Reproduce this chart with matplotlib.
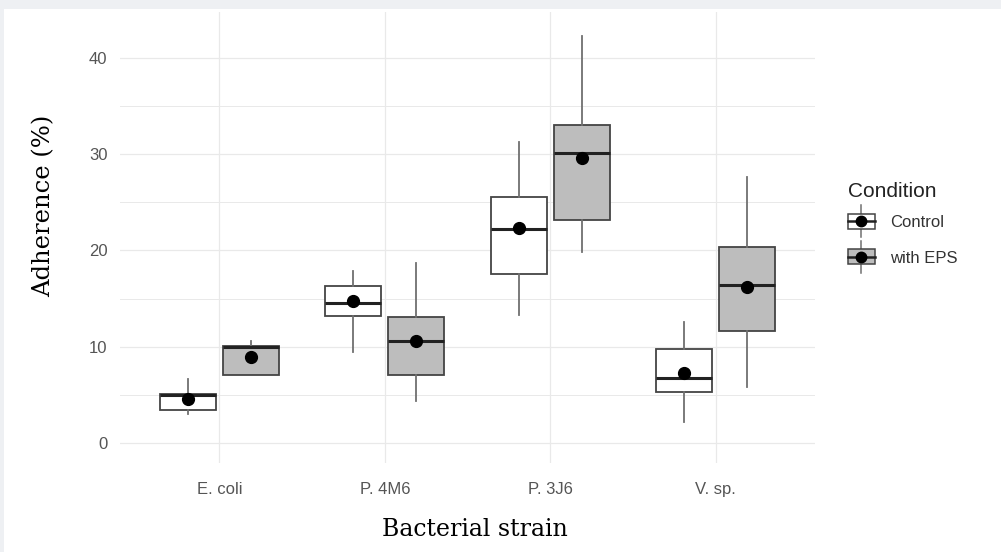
import numpy as np
import matplotlib.pyplot as plt
from matplotlib.legend_handler import HandlerBase
from matplotlib.patches import Rectangle
from matplotlib.lines import Line2D

strains = ['E. coli', 'P. 4M6', 'P. 3J6', 'V. sp.']
conditions = ['Control', 'with EPS']

# box stats (whisker low, Q1, median, Q3, whisker high, mean)
ctrl_lo = [3.0, 9.4, 13.3, 2.2]
ctrl_q1 = [3.4, 13.2, 17.6, 5.3]
ctrl_med = [5.0, 14.5, 22.2, 6.75]
ctrl_q3 = [5.1, 16.3, 25.6, 9.8]
ctrl_hi = [6.6, 17.9, 31.3, 12.6]
ctrl_mean = [4.6, 14.7, 22.3, 7.3]

eps_lo = [7.05, 4.3, 19.8, 5.8]
eps_q1 = [7.05, 7.1, 23.2, 11.6]
eps_med = [10.0, 10.6, 30.1, 16.4]
eps_q3 = [10.1, 13.1, 33.0, 20.4]
eps_hi = [10.6, 18.7, 42.3, 27.6]
eps_mean = [8.9, 10.6, 29.6, 16.2]

fills = ['white', '#bdbdbd']
edge = '#444444'
whisk = '#707070'
grid_c = '#e9e9e9'


def make_stats(lo, q1, med, q3, hi):
    return [dict(whislo=a, q1=b, med=c, q3=d, whishi=e, fliers=[])
            for a, b, c, d, e in zip(lo, q1, med, q3, hi)]


class BoxHandler(HandlerBase):
    # legend key: whisker, box, median line and mean dot, sized from the font
    def create_artists(self, legend, orig_handle, xdescent, ydescent,
                       width, height, fontsize, trans):
        fc = orig_handle.get_facecolor()
        cx = width / 2 - xdescent
        cy = height / 2 - ydescent
        bw, bh = width, 0.9 * fontsize
        wh = 0.95 * fontsize
        wl = Line2D([cx, cx], [cy - wh, cy + wh], color=whisk, lw=1.1, transform=trans)
        box = Rectangle((cx - bw / 2, cy - bh / 2), bw, bh, facecolor=fc,
                        edgecolor=edge, lw=1.1, transform=trans)
        med = Line2D([cx - bw / 2, cx + bw / 2], [cy, cy], color='#222222', lw=1.8, transform=trans)
        dot = Line2D([cx], [cy], marker='o', color='black', ms=7.5, transform=trans)
        return [wl, box, med, dot]


fig = plt.figure(figsize=(10.01, 5.52), dpi=100, facecolor='#eef0f3')
fig.patches.append(Rectangle((4 / 1001, 0), 1, 1 - 9 / 552, transform=fig.transFigure,
                             facecolor='white', edgecolor='none', zorder=-1))
ax = fig.add_axes([120 / 1001, 1 - 463 / 552, 695 / 1001, 451 / 552])
ax.set_facecolor('white')

x = np.arange(1, len(strains) + 1)
off = 0.19
bw = 0.34
groups = [(make_stats(ctrl_lo, ctrl_q1, ctrl_med, ctrl_q3, ctrl_hi), ctrl_mean, -off),
          (make_stats(eps_lo, eps_q1, eps_med, eps_q3, eps_hi), eps_mean, off)]
handles = []
for i, (stats, means, dx) in enumerate(groups):
    ax.bxp(stats, positions=x + dx, widths=bw, patch_artist=True, showfliers=False,
           showcaps=False, manage_ticks=False,
           boxprops=dict(facecolor=fills[i], edgecolor=edge, lw=1.3),
           whiskerprops=dict(color=whisk, lw=1.3),
           medianprops=dict(color='#222222', lw=2.2))
    ax.plot(x + dx, means, 'o', color='black', ms=8.5, zorder=5)
    handles.append(Rectangle((0, 0), 1, 1, facecolor=fills[i]))

ax.set_xlim(0.4, 4.6)
ax.set_ylim(-2.1, 44.8)
ax.set_xticks(x)
ax.set_xticklabels(strains)
ax.set_yticks([0, 10, 20, 30, 40])
ax.set_yticks([5, 15, 25, 35], minor=True)
ax.grid(axis='y', which='major', color=grid_c, lw=0.9)
ax.grid(axis='y', which='minor', color=grid_c, lw=0.7)
ax.grid(axis='x', which='major', color=grid_c, lw=0.9)
ax.set_axisbelow(True)
for s in ax.spines.values():
    s.set_visible(False)
ax.tick_params(axis='both', which='both', length=0, labelcolor='#555555', labelsize=12)
ax.tick_params(axis='y', pad=9)
ax.tick_params(axis='x', pad=14)
for lab in ax.get_xticklabels() + ax.get_yticklabels():
    lab.set_family('Liberation Sans')

fig.text(475 / 1001, 1 - 530 / 552, 'Bacterial strain', ha='center', va='center',
         family='DejaVu Serif', size=17)
fig.text(44 / 1001, 1 - 206 / 552, 'Adherence (%)', ha='center', va='center',
         rotation=90, family='DejaVu Serif', size=17.5)

leg = fig.legend(handles, conditions, handler_map={Rectangle: BoxHandler()},
                 loc='upper left', bbox_to_anchor=(848 / 1001, 1 - 182 / 552),
                 frameon=False, title='Condition', alignment='left',
                 prop=dict(family='Liberation Sans', size=12),
                 handlelength=1.6, handleheight=0.7, labelspacing=1.25,
                 handletextpad=0.9, borderpad=0, borderaxespad=0)
leg.get_title().set_family('Liberation Sans')
leg.get_title().set_fontsize(15)
leg.get_title().set_color('#222222')
leg._legend_box.sep = 10
for t in leg.get_texts():
    t.set_color('#333333')

fig.savefig('out.png', dpi=100, facecolor=fig.get_facecolor())
